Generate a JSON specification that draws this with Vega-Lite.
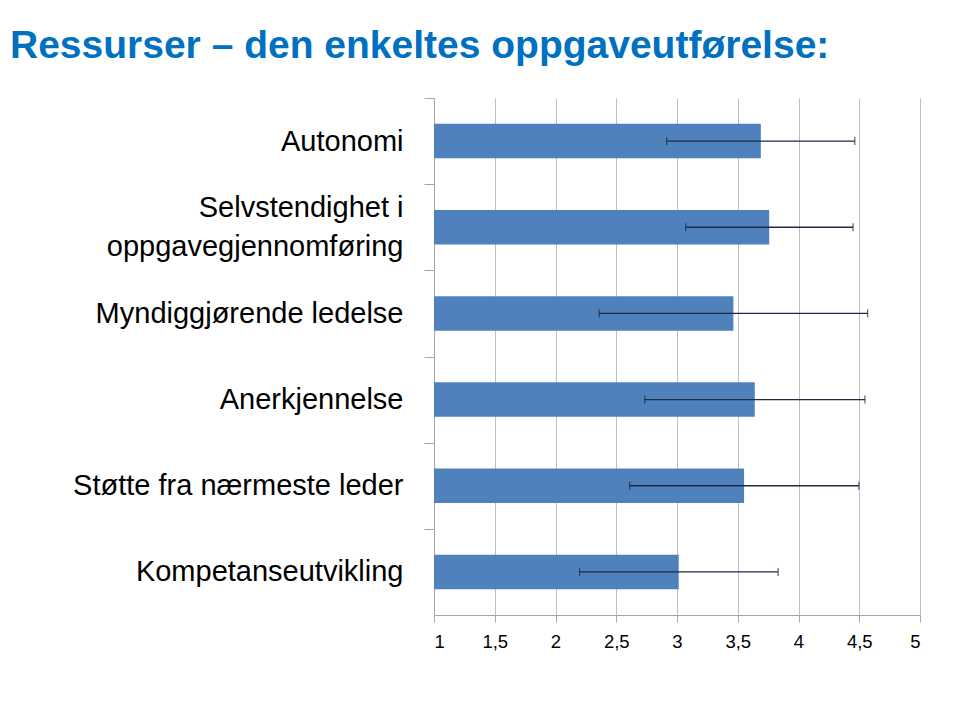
{
  "$schema": "https://vega.github.io/schema/vega-lite/v6.json",
  "width": 486,
  "height": 517,
  "autosize": "none",
  "padding": {"left": 434, "top": 98, "right": 40, "bottom": 105},
  "background": "white",
  "title": {
    "text": "Ressurser – den enkeltes oppgaveutførelse:",
    "anchor": "start",
    "frame": "group",
    "dx": -424,
    "offset": 1,
    "baseline": "alphabetic",
    "font": "Liberation Sans",
    "fontSize": 39,
    "fontWeight": "bold",
    "color": "#0070C0"
  },
  "data": {
    "values": [
      {"kategori": "Autonomi", "snitt": 3.69, "lav": 2.915, "hoy": 4.463},
      {"kategori": "Selvstendighet i oppgavegjennomføring", "snitt": 3.759, "lav": 3.071, "hoy": 4.449},
      {"kategori": "Myndiggjørende ledelse", "snitt": 3.464, "lav": 2.36, "hoy": 4.569},
      {"kategori": "Anerkjennelse", "snitt": 3.64, "lav": 2.734, "hoy": 4.547},
      {"kategori": "Støtte fra nærmeste leder", "snitt": 3.552, "lav": 2.61, "hoy": 4.497},
      {"kategori": "Kompetanseutvikling", "snitt": 3.014, "lav": 2.198, "hoy": 3.832}
    ]
  },
  "encoding": {
    "y": {
      "field": "kategori",
      "type": "nominal",
      "sort": null,
      "title": null,
      "scale": {"paddingInner": 0.6, "paddingOuter": 0.3},
      "axis": {
        "tickOffset": -43.08,
        "tickSize": 10,
        "tickColor": "#A6A6A6",
        "domainColor": "#A6A6A6",
        "labelFont": "Liberation Sans",
        "labelFontSize": 29,
        "labelColor": "#000000",
        "labelPadding": 21,
        "labelLimit": 420,
        "labelLineHeight": 39,
        "labelOffset": {"condition": {"test": "datum.value == 'Selvstendighet i oppgavegjennomføring'", "value": 23.58}, "value": 43.08},
        "labelExpr": "datum.value == 'Selvstendighet i oppgavegjennomføring' ? ['Selvstendighet i', 'oppgavegjennomføring'] : datum.value"
      }
    }
  },
  "layer": [
    {
      "mark": {"type": "bar", "color": "#4F81BD"},
      "encoding": {
        "x": {
          "field": "snitt",
          "type": "quantitative",
          "title": null,
          "scale": {"domain": [1, 5], "zero": false, "nice": false},
          "axis": {
            "values": [1, 1.5, 2, 2.5, 3, 3.5, 4, 4.5, 5],
            "grid": true,
            "gridColor": "#BFBFBF",
            "gridWidth": 1,
            "tickSize": 7,
            "tickColor": "#A6A6A6",
            "domainColor": "#A6A6A6",
            "labelFont": "Liberation Sans",
            "labelFontSize": 18.5,
            "labelColor": "#000000",
            "labelPadding": 10,
            "labelExpr": "replace(format(datum.value, '~g'), '.', ',')"
          }
        },
        "x2": {"datum": 1}
      }
    },
    {
      "mark": {"type": "rule", "color": "#1F2A44", "strokeWidth": 1.3},
      "encoding": {
        "x": {"field": "lav", "type": "quantitative"},
        "x2": {"field": "hoy"}
      }
    },
    {
      "mark": {"type": "tick", "color": "#1F2A44", "thickness": 1.3, "size": 8, "orient": "vertical"},
      "encoding": {"x": {"field": "lav", "type": "quantitative"}}
    },
    {
      "mark": {"type": "tick", "color": "#1F2A44", "thickness": 1.3, "size": 8, "orient": "vertical"},
      "encoding": {"x": {"field": "hoy", "type": "quantitative"}}
    }
  ],
  "config": {"view": {"stroke": null}}
}
